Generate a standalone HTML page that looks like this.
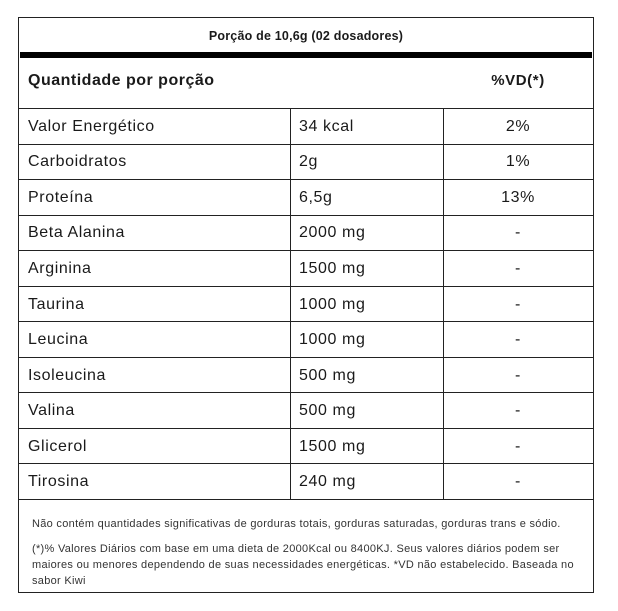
<!DOCTYPE html>
<html><head><meta charset="utf-8"><style>
body{margin:0;width:618px;height:611px;background:#fff;font-family:"Liberation Sans",sans-serif;color:#1a1a1a;position:relative}
.box{position:absolute;left:18px;top:17px;width:574px;height:574px;border:1px solid #222}
.abs{position:absolute}
.t{position:absolute;font-size:16px;line-height:16px;white-space:nowrap;letter-spacing:0.6px}
.c{text-align:center}
.h{position:absolute;left:0;width:574px;height:0;border-top:1px solid #222}
.v{position:absolute;width:0;border-left:1px solid #222}
.fn{position:absolute;left:13px;font-size:11px;line-height:16px;color:#333;white-space:nowrap;letter-spacing:0.3px}
</style></head><body>
<div class="box">
 <div class="t c" style="left:0;width:574px;top:10px;font-size:12.5px;font-weight:bold;letter-spacing:0.2px">Porção de 10,6g (02 dosadores)</div>
 <div class="abs" style="left:1px;top:34px;width:572px;height:6px;background:#000"></div>
 <div class="t" style="left:9px;top:55px;font-weight:bold;font-size:16px;letter-spacing:0.5px">Quantidade por porção</div>
 <div class="t c" style="left:424px;width:150px;top:55px;font-weight:bold;font-size:15px">%VD(*)</div>
 <div class="h" style="top:90px"></div>
 <div class="v" style="left:271px;top:90px;height:391px"></div>
 <div class="v" style="left:424px;top:90px;height:391px"></div>
 <div id="rows"></div>
 <div class="h" style="top:481px"></div>
 <div class="fn" style="top:498px">Não contém quantidades significativas de gorduras totais, gorduras saturadas, gorduras trans e sódio.</div>
 <div class="fn" style="top:523px">(*)% Valores Diários com base em uma dieta de 2000Kcal ou 8400KJ. Seus valores diários podem ser<br>maiores ou menores dependendo de suas necessidades energéticas. *VD não estabelecido. Baseada no<br>sabor Kiwi</div>
</div>
<script>
const names=["Valor Energético","Carboidratos","Proteína","Beta Alanina","Arginina","Taurina","Leucina","Isoleucina","Valina","Glicerol","Tirosina"];
const amounts=["34 kcal","2g","6,5g","2000 mg","1500 mg","1000 mg","1000 mg","500 mg","500 mg","1500 mg","240 mg"];
const vds=["2%","1%","13%","-","-","-","-","-","-","-","-"];
const rows=document.getElementById('rows');
const top0=90,rh=391/names.length;
names.forEach((n,i)=>{
 const y=top0+i*rh;
 const a=document.createElement('div');a.className='t';a.style.left='9px';a.style.top=(y+rh/2-7)+'px';a.textContent=n;
 
 
 rows.appendChild(a);
 const b=document.createElement('div');b.className='t';b.style.left='280px';b.style.top=(y+rh/2-7)+'px';b.textContent=amounts[i];
 
 
 rows.appendChild(b);
 const c=document.createElement('div');c.className='t c';c.style.left='424px';c.style.width='150px';c.style.top=(y+rh/2-7)+'px';c.textContent=vds[i];
 
 
 rows.appendChild(c);
 if(i>0){const l=document.createElement('div');l.className='h';l.style.top=y+'px';
 
 
 rows.appendChild(l);}
});
</script>
</body></html>
